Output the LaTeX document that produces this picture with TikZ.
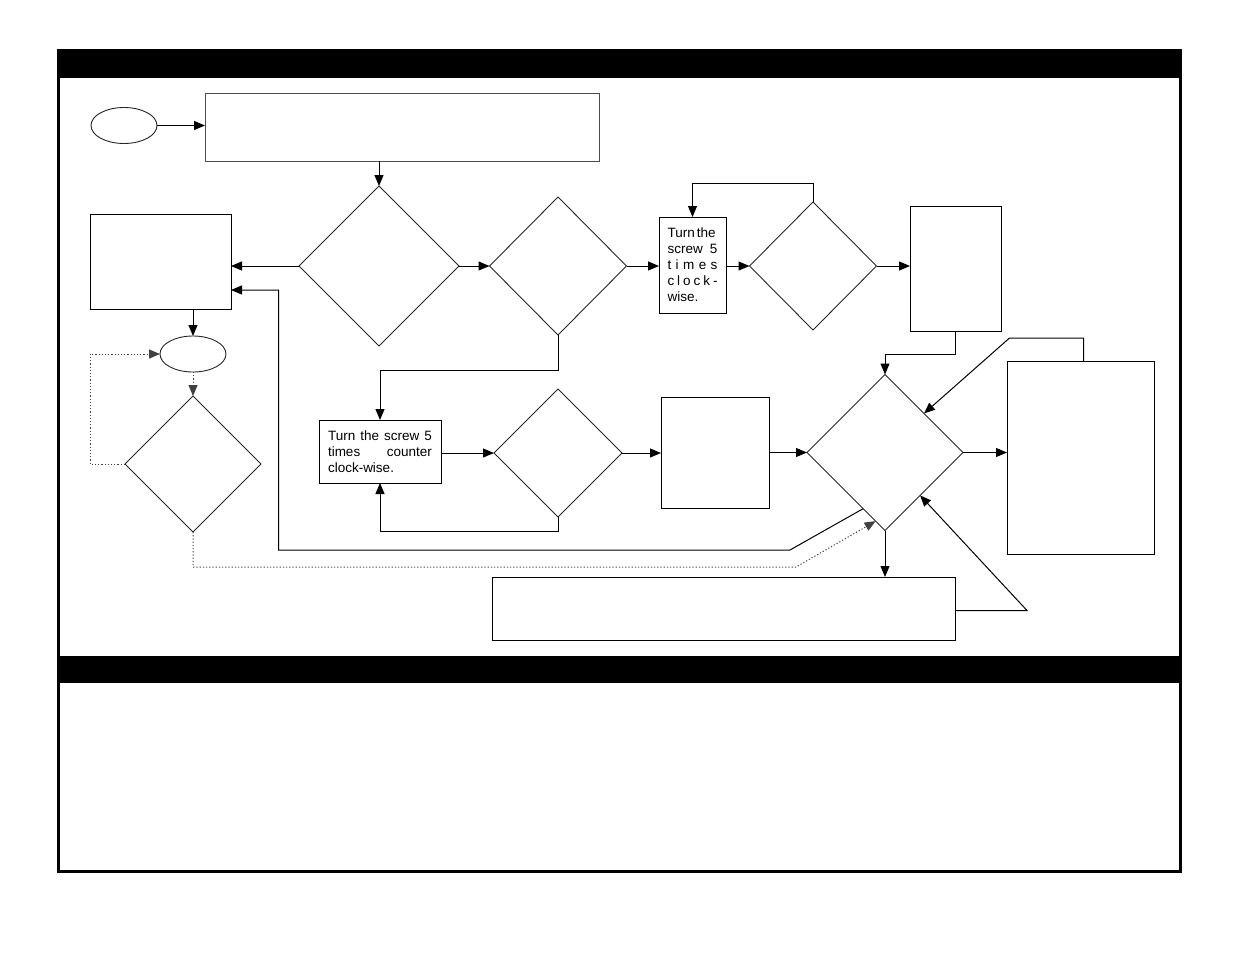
\documentclass[tikz,border=0pt]{standalone}
\usepackage{fontspec}
\setmainfont{Liberation Sans}
\usetikzlibrary{shapes.geometric,arrows.meta,calc}
\begin{document}
\begin{tikzpicture}[x=1pt,y=-1pt,
  box/.style={draw, line width=1pt, inner sep=0pt, outer sep=0pt},
  dia/.style={diamond, draw=black!85, line width=0.9pt, inner sep=0pt, outer sep=0pt},
  oval/.style={ellipse, draw=black!85, line width=0.9pt, inner sep=0pt, outer sep=0pt},
  conn/.style={line width=1pt, -{Triangle[length=11pt,width=9pt]}},
  dotconn/.style={conn, draw=black!75, dash pattern=on 1.2pt off 2pt},
  txt/.style={font=\fontsize{13.5}{16}\selectfont}]
\useasboundingbox (0,0) rectangle (1235,954);
% frame
\fill (57,49) rectangle (1182,78);
\fill (57,656) rectangle (1182,683);
\draw[line width=3pt] (58.5,50) rectangle (1180,871);
% nodes
\node[oval, minimum width=66pt, minimum height=36pt] (e1) at (124,125.5) {};
\node[box, draw=black!70, minimum width=394pt, minimum height=68pt] (top) at (402,127) {};
\node[dia, minimum width=160pt, minimum height=160pt] (d1) at (379,266) {};
\node[box, minimum width=141pt, minimum height=95pt] (left) at (160.5,261.5) {};
\node[dia, minimum width=137pt, minimum height=138pt] (d2) at (558,266) {};
\node[box, txt, minimum width=67pt, minimum height=96pt] (cw) at (692.5,265) {\parbox{50pt}{\fontsize{13.5}{16}\selectfont
  \makebox[50pt][s]{Turn\hspace{0.15em minus 0.1em}the}\\
  \makebox[50pt][s]{screw\hfill 5}\\
  \makebox[50pt][s]{t\hfill i\hfill m\hfill e\hfill s}\\
  \makebox[50pt][s]{c\hfill l\hfill o\hfill c\hfill k\hfill -}\\
  wise.}};
\node[dia, minimum width=127pt, minimum height=128pt] (d3) at (813,266) {};
\node[box, minimum width=91pt, minimum height=125pt] (tall1) at (955.5,268.5) {};
\node[oval, minimum width=66pt, minimum height=36pt] (e2) at (193,354) {};
\node[dia, minimum width=136pt, minimum height=136pt] (d5) at (193,464) {};
\node[box, txt, minimum width=122pt, minimum height=63pt] (ccw) at (380,451.5) {\parbox{104pt}{\fontsize{13.5}{16}\selectfont
  \makebox[104pt][s]{Turn the screw 5}\\
  \makebox[104pt][s]{times\hfill counter}\\
  clock-wise.}};
\node[dia, minimum width=128pt, minimum height=128pt] (d4) at (558,453) {};
\node[box, minimum width=108pt, minimum height=111pt] (mid) at (715,452.5) {};
\node[dia, minimum width=156pt, minimum height=156pt] (dbig) at (885,452.5) {};
\node[box, minimum width=147pt, minimum height=193pt] (right) at (1080.5,457.5) {};
\node[box, minimum width=463pt, minimum height=63pt] (bottom) at (723.5,608.5) {};
% helper coordinates
\coordinate (r1) at (790,550);
\coordinate (r2) at (278.5,550);
\coordinate (rin) at ($(left.north east)!0.8!(left.south east)$);
\coordinate (q1) at (796,567);
% connectors
\draw[conn] (e1.east) -- (e1.east -| top.west);
\draw[conn] (top.south -| d1.north) -- (d1.north);
\draw[conn] (d1.west) -- (d1.west -| left.east);
\draw[conn] (d1.east) -- (d2.west);
\draw[conn] (d2.east) -- (d2.east -| cw.west);
\draw[conn] (cw.east |- d3.west) -- (d3.west);
\draw[conn] (d3.north) -- ++(0,-19) -| (cw.north);
\draw[conn] (d3.east) -- (d3.east -| tall1.west);
\draw[conn] (tall1.south) -- ++(0,23) -| (dbig.north);
\draw[conn] (d2.south) -- ++(0,35) -| (ccw.north);
\draw[conn] (d4.west -| ccw.east) -- (d4.west);
\draw[conn] (d4.south) -- ++(0,14) -| (ccw.south);
\draw[conn] (d4.east) -- (d4.east -| mid.west);
\draw[conn] (mid.east |- dbig.west) -- (dbig.west);
\draw[conn] (dbig.east) -- (dbig.east -| right.west);
\draw[conn] ($(right.north)+(3,0)$) -- ++(0,-23) -- ++(-74,0) -- (dbig.north east);
\draw[conn] (dbig.south) -- (dbig.south |- bottom.north);
\draw[conn] ($(bottom.east)+(0,2)$) -- ++(72,0) -- ($(dbig.east)!0.55!(dbig.south)$);
\draw[conn] ($(dbig.west)!0.72!(dbig.south)$) -- (r1) -- (r2) |- (rin);
\draw[dotconn] (d5.south) |- (q1) -- ($(dbig.west)!0.88!(dbig.south)$);
\draw[conn] (left.south -| e2.north) -- (e2.north);
\draw[dotconn] (e2.south) -- (d5.north);
\draw[dotconn] (d5.west) -- ++(-35,0) |- (e2.west);
\end{tikzpicture}
\end{document}
